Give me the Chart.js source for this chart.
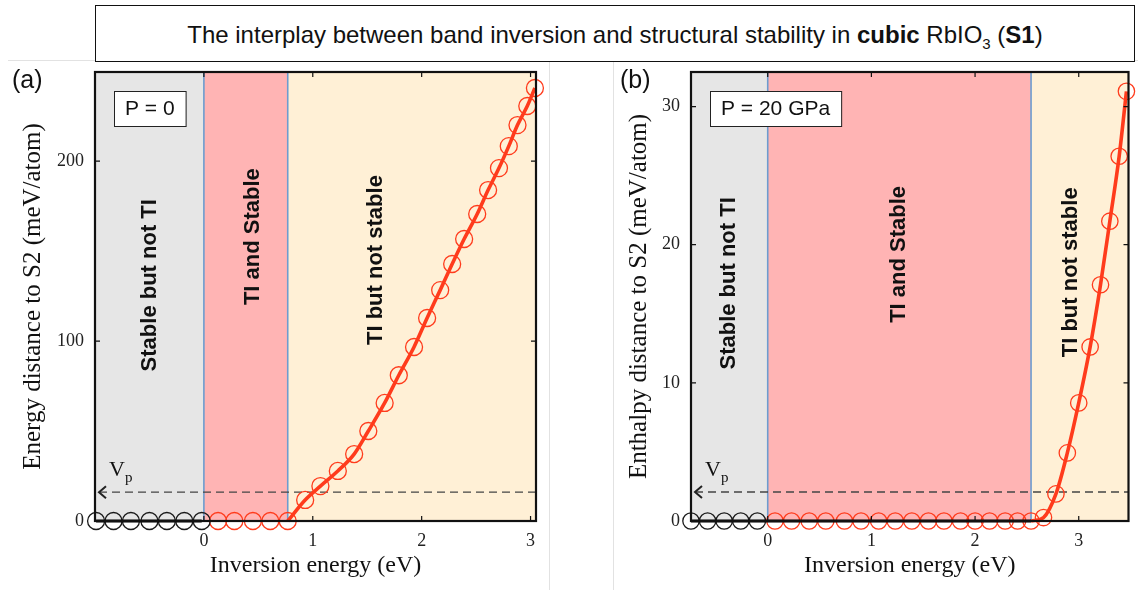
<!DOCTYPE html>
<html>
<head>
<meta charset="utf-8">
<script src="https://cdn.jsdelivr.net/npm/chart.js@4.4.0/dist/chart.umd.min.js"></script>
<style>
    body { margin: 0; background: #fff; }
    #wrap { position: relative; width: 1138px; height: 590px; overflow: hidden; font-family: 'Liberation Sans', Arial, sans-serif; color: #111; }
    .sep { position: absolute; background: #e2e2e2; }
    #title { position: absolute; left: 95px; top: 5px; width: 1040px; height: 57px; box-sizing: border-box; border: 1.5px solid #111; background: #fff; text-align: center; line-height: 57px; font-size: 24px; }
    #title sub { font-size: 15px; line-height: 0; }
    canvas { position: absolute; top: 0; }
    .tag { position: absolute; top: 64px; font-size: 25px; line-height: 30px; }
</style>
</head>
<body>
<div id="wrap">
    <div class="sep" style="left:8px; top:60px; width:542px; height:1px;"></div>
    <div class="sep" style="left:549px; top:60px; width:1px; height:530px;"></div>
    <div class="sep" style="left:613px; top:60px; width:525px; height:1px;"></div>
    <div class="sep" style="left:613px; top:60px; width:1px; height:530px;"></div>
    <div id="title">The interplay between band inversion and structural stability in <b>cubic</b> RbIO<sub>3</sub> (<b>S1</b>)</div>
    <canvas id="chartA" width="560" height="590" style="left:0;"></canvas>
    <canvas id="chartB" width="578" height="590" style="left:560px;"></canvas>
    <div class="tag" style="left:12px;">(a)</div>
    <div class="tag" style="left:620px;">(b)</div>
</div>
<script>
// ---- panel (a), P = 0 ----
const aBlackX = [-0.99, -0.83, -0.67, -0.5, -0.34, -0.18, -0.02];
const aBlackY = [0, 0, 0, 0, 0, 0, 0];
const aRedX = [0.13, 0.28, 0.45, 0.61, 0.77, 0.93, 1.07, 1.23, 1.38, 1.51, 1.66, 1.79, 1.93, 2.05, 2.17, 2.28, 2.39, 2.51, 2.61, 2.71, 2.80, 2.88, 2.97, 3.04];
const aRedY = [0, 0, 0, 0, 0, 11.7, 19.4, 27.8, 37.2, 50, 65.6, 81, 96.7, 112.8, 128.3, 142.8, 156.7, 170.6, 183.9, 196.1, 208.3, 220, 230.6, 240.6];
const aBounds = [-1, 0, 0.77, 3.05];   // gray | pink | yellow
const aXTicks = [0, 1, 2, 3];
const aYTicks = [0, 100, 200];
const aVp = 16;

// ---- panel (b), P = 20 GPa ----
const bBlackX = [-0.74, -0.58, -0.42, -0.26, -0.10];
const bBlackY = [0, 0, 0, 0, 0];
const bRedX = [0.07, 0.23, 0.40, 0.56, 0.74, 0.90, 1.07, 1.23, 1.39, 1.55, 1.70, 1.86, 2.00, 2.14, 2.29, 2.41, 2.54, 2.66, 2.78, 2.89, 3.00, 3.11, 3.21, 3.30, 3.39, 3.46];
const bRedY = [0, 0, 0, 0, 0, 0, 0, 0, 0, 0, 0, 0, 0, 0, 0, 0, 0, 0.25, 1.96, 4.93, 8.55, 12.6, 17.1, 21.7, 26.4, 31.1];
const bBounds = [-0.74, 0, 2.54, 3.48];
const bXTicks = [0, 1, 2, 3];
const bYTicks = [0, 10, 20, 30];
const bVp = 2.1;

const regionNames = ['Stable but not TI', 'TI and Stable', 'TI but not stable'];
const regionColors = ['#e6e6e6', '#ffb4b4', '#fff0d6'];

const RED = '#ff3b1c';

function pts(xs, ys) {
    return xs.map((x, i) => ({ x: x, y: ys[i] }));
}

const panelDeco = {
    id: 'panelDeco',
    beforeDatasetsDraw(chart, args, o) {
        const { ctx, chartArea: { left, top, right, bottom } } = chart;
        const xs = chart.scales.x, ys = chart.scales.y;
        ctx.save();
        // region backgrounds
        for (let i = 0; i < 3; i++) {
            const x0 = Math.max(left, xs.getPixelForValue(o.bounds[i]));
            const x1 = Math.min(right, xs.getPixelForValue(o.bounds[i + 1]));
            ctx.fillStyle = regionColors[i];
            ctx.fillRect(x0, top, x1 - x0, bottom - top);
        }
        // boundary lines
        ctx.strokeStyle = '#6d9ccf';
        ctx.lineWidth = 1.6;
        [o.bounds[1], o.bounds[2]].forEach(v => {
            const px = xs.getPixelForValue(v);
            ctx.beginPath();
            ctx.moveTo(px, top);
            ctx.lineTo(px, bottom);
            ctx.stroke();
        });
        // region names, rotated
        ctx.fillStyle = '#111';
        ctx.font = 'bold 22px "Liberation Sans", Arial, sans-serif';
        ctx.textAlign = 'center';
        ctx.textBaseline = 'middle';
        o.labels.forEach((l, i) => {
            ctx.save();
            ctx.translate(xs.getPixelForValue(l[0]), ys.getPixelForValue(l[1]));
            ctx.rotate(-Math.PI / 2);
            ctx.fillText(regionNames[i], 0, 0);
            ctx.restore();
        });
        // pressure box
        ctx.font = '21px "Liberation Sans", Arial, sans-serif';
        const w = ctx.measureText(o.pressure).width + 22;
        const bx = left + 19, by = top + 19;
        ctx.fillStyle = '#fff';
        ctx.fillRect(bx, by, w, 35);
        ctx.strokeStyle = '#222';
        ctx.lineWidth = 1;
        ctx.strokeRect(bx + 0.5, by + 0.5, w, 35);
        ctx.fillStyle = '#111';
        ctx.fillText(o.pressure, bx + w / 2, by + 18);
        // Vp dashed line with arrow
        const vy = ys.getPixelForValue(o.vp);
        ctx.strokeStyle = '#444';
        ctx.lineWidth = 1.3;
        ctx.setLineDash([8, 5]);
        ctx.beginPath();
        ctx.moveTo(left + 4, vy);
        ctx.lineTo(right, vy);
        ctx.stroke();
        ctx.setLineDash([]);
        ctx.lineWidth = 2;
        ctx.strokeStyle = '#222';
        ctx.beginPath();
        ctx.moveTo(left + 11, vy - 6);
        ctx.lineTo(left + 4, vy);
        ctx.lineTo(left + 11, vy + 6);
        ctx.stroke();
        ctx.fillStyle = '#111';
        ctx.textAlign = 'left';
        ctx.textBaseline = 'alphabetic';
        ctx.font = '22px "Liberation Serif", "Times New Roman", serif';
        ctx.fillText('V', left + 14, vy - 16);
        ctx.font = '15px "Liberation Serif", "Times New Roman", serif';
        ctx.fillText('p', left + 30, vy - 10);
        ctx.restore();
    },
    afterDatasetsDraw(chart) {
        const { ctx, chartArea: { left, top, right, bottom } } = chart;
        const xs = chart.scales.x, ys = chart.scales.y;
        ctx.save();
        ctx.strokeStyle = '#111';
        ctx.lineWidth = 1.2;
        ctx.beginPath();
        xs.ticks.forEach(t => {
            const px = xs.getPixelForValue(t.value);
            ctx.moveTo(px, bottom); ctx.lineTo(px, bottom - 5);
            ctx.moveTo(px, top); ctx.lineTo(px, top + 5);
        });
        ys.ticks.forEach(t => {
            const py = ys.getPixelForValue(t.value);
            ctx.moveTo(left, py); ctx.lineTo(left + 5, py);
            ctx.moveTo(right, py); ctx.lineTo(right - 5, py);
        });
        ctx.stroke();
        ctx.lineWidth = 2.2;
        ctx.strokeRect(left, top, right - left, bottom - top);
        ctx.restore();
    }
};

function buildPanel(id, p) {
    const serif = '"Liberation Serif", "Times New Roman", serif';
    new Chart(document.getElementById(id), {
        type: 'scatter',
        data: {
            datasets: [
                {
                    data: p.blackLine, showLine: true, borderColor: '#111', borderWidth: 3.2,
                    pointRadius: 0, clip: false
                },
                {
                    data: p.redLine, showLine: true, borderColor: RED, borderWidth: 3.6,
                    pointRadius: 0, cubicInterpolationMode: 'monotone', clip: false
                },
                {
                    data: p.black, pointRadius: p.r, pointBorderWidth: 1.3, pointBorderColor: '#1a1a1a',
                    pointBackgroundColor: 'transparent', clip: false
                },
                {
                    data: p.red, pointRadius: p.r, pointBorderWidth: 1.3, pointBorderColor: RED,
                    pointBackgroundColor: 'transparent', clip: false
                }
            ]
        },
        options: {
            responsive: false,
            animation: false,
            devicePixelRatio: 1,
            layout: { padding: { top: 72, right: p.padRight, left: 0, bottom: 0 } },
            scales: {
                x: {
                    type: 'linear', min: p.xMin, max: p.xMax,
                    afterBuildTicks: s => { s.ticks = p.xTicks.map(v => ({ value: v })); },
                    afterFit: s => { s.height = 69; },
                    grid: { display: false, drawTicks: false },
                    border: { display: false },
                    ticks: { color: '#222', padding: 9, font: { family: serif, size: 18 } },
                    title: {
                        display: true, text: 'Inversion energy (eV)', color: '#111',
                        font: { family: serif, size: 24 }, padding: { top: 0, bottom: 10 }
                    }
                },
                y: {
                    type: 'linear', min: 0, max: p.yMax,
                    afterBuildTicks: s => { s.ticks = p.yTicks.map(v => ({ value: v })); },
                    afterFit: s => { s.width = p.yWidth; },
                    grid: { display: false, drawTicks: false },
                    border: { display: false },
                    ticks: { color: '#222', padding: 11, font: { family: serif, size: 18 } },
                    title: {
                        display: true, text: p.yTitle, color: '#111',
                        font: { family: serif, size: 25 }, padding: { top: p.yTitlePad, bottom: 0 }
                    }
                }
            },
            plugins: {
                legend: { display: false },
                tooltip: { enabled: false },
                panelDeco: { bounds: p.bounds, labels: p.labels, pressure: p.pressure, vp: p.vp }
            }
        },
        plugins: [panelDeco]
    });
}

buildPanel('chartA', {
    black: pts(aBlackX, aBlackY),
    red: pts(aRedX, aRedY),
    blackLine: pts(aBlackX, aBlackY),
    redLine: pts(aRedX.slice(4), aRedY.slice(4)),
    r: 8.5,
    xMin: -1, xMax: 3.05, yMax: 249.5,
    xTicks: aXTicks, yTicks: aYTicks,
    bounds: aBounds,
    labels: [[-0.5, 131], [0.45, 158], [1.58, 145]],
    pressure: 'P = 0',
    vp: aVp,
    yTitle: 'Energy distance to S2 (meV/atom)',
    yWidth: 95, yTitlePad: 18, padRight: 24
});

buildPanel('chartB', {
    black: pts(bBlackX, bBlackY),
    red: pts(bRedX, bRedY),
    blackLine: pts(bBlackX.concat(bRedX.slice(0, 17)), bBlackY.concat(bRedY.slice(0, 17))),
    redLine: pts(bRedX.slice(16), bRedY.slice(16)),
    r: 8.2,
    xMin: -0.74, xMax: 3.48, yMax: 32.5,
    xTicks: bXTicks, yTicks: bYTicks,
    bounds: bBounds,
    labels: [[-0.37, 17.2], [1.27, 19.3], [2.92, 18.0]],
    pressure: 'P = 20 GPa',
    vp: bVp,
    yTitle: 'Enthalpy distance to S2 (meV/atom)',
    yWidth: 131, yTitlePad: 64, padRight: 6
});
</script>
</body>
</html>
